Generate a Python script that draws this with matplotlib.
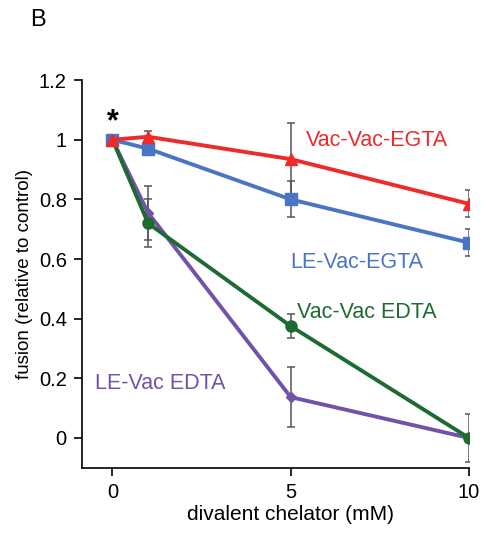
import matplotlib
matplotlib.use("Agg")
import matplotlib.pyplot as plt

plt.rcParams['font.family'] = ['Liberation Sans', 'DejaVu Sans']

# chelator concentration (mM)
conc = [0, 1, 5, 10]

# normalized fusion, mean and error per series
vac_vac_egta = [1.0, 1.01, 0.935, 0.785]
vac_vac_egta_err = [0.0, 0.02, 0.12, 0.045]

le_vac_egta = [1.0, 0.97, 0.80, 0.655]
le_vac_egta_err = [0.0, 0.0, 0.06, 0.045]

vac_vac_edta = [1.0, 0.72, 0.375, 0.0]
vac_vac_edta_err = [0.0, 0.08, 0.04, 0.08]

le_vac_edta = [1.0, 0.755, 0.137, 0.0]
le_vac_edta_err = [0.0, 0.09, 0.10, 0.0]

series_names = ["Vac-Vac-EGTA", "LE-Vac-EGTA", "Vac-Vac EDTA", "LE-Vac EDTA"]
x_ticks = [0, 5, 10]
y_ticks = [0, 0.2, 0.4, 0.6, 0.8, 1.0, 1.2]
y_tick_labels = ["0", "0.2", "0.4", "0.6", "0.8", "1", "1.2"]

RED = "#EE2A2A"
BLUE = "#4A74C4"
GREEN = "#1E6B32"
PURPLE = "#7152A8"

fig = plt.figure(figsize=(4.86, 5.34), dpi=100)
ax = fig.add_axes([0.169, 0.124, 0.796, 0.726])

err_kw = dict(fmt="none", ecolor="#555555", elinewidth=1.1, capsize=3, capthick=1.1, zorder=1)

series = [
    (le_vac_edta, le_vac_edta_err, PURPLE, "D", 5),
    (vac_vac_edta, vac_vac_edta_err, GREEN, "o", 8),
    (le_vac_egta, le_vac_egta_err, BLUE, "s", 8),
    (vac_vac_egta, vac_vac_egta_err, RED, "^", 8),
]
for vals, errs, col, mk, ms in series:
    ax.errorbar(conc, vals, yerr=errs, **err_kw)
for vals, errs, col, mk, ms in series:
    ax.plot(conc, vals, color=col, lw=2.8, marker=mk, markersize=ms,
            markeredgecolor=col, zorder=3)

xmin, xmax = -0.85, 10.0
ax.set_xlim(xmin, xmax)
ax.set_ylim(-0.1, 1.2)
ax.set_xticks(x_ticks)
ax.set_yticks(y_ticks)
ax.set_yticklabels(y_tick_labels)
ax.tick_params(labelsize=14.5, length=6, width=1.2, direction="out", pad=5)
for s in ["top", "right"]:
    ax.spines[s].set_visible(False)
for s in ["left", "bottom"]:
    ax.spines[s].set_linewidth(1.2)

ax.set_xlabel("divalent chelator (mM)", fontsize=15, labelpad=2)
# center the x label under the middle tick
ax.xaxis.label.set_x((5 - xmin) / (xmax - xmin))
ax.set_ylabel("fusion (relative to control)", fontsize=13.5, labelpad=4)

lbl = 15.5
ax.text(5.43, 0.997, series_names[0], color=RED, fontsize=lbl, va="center")
ax.text(4.99, 0.587, series_names[1], color=BLUE, fontsize=lbl, va="center")
ax.text(5.18, 0.42, series_names[2], color=GREEN, fontsize=lbl, va="center")
ax.text(-0.48, 0.183, series_names[3], color=PURPLE, fontsize=lbl, va="center")
ax.text(0, 1.06, "*", fontsize=22, fontweight="bold", ha="center", va="center")

fig.text(0.062, 0.963, "B", fontsize=17, va="center")

fig.savefig("out.png", dpi=100)
